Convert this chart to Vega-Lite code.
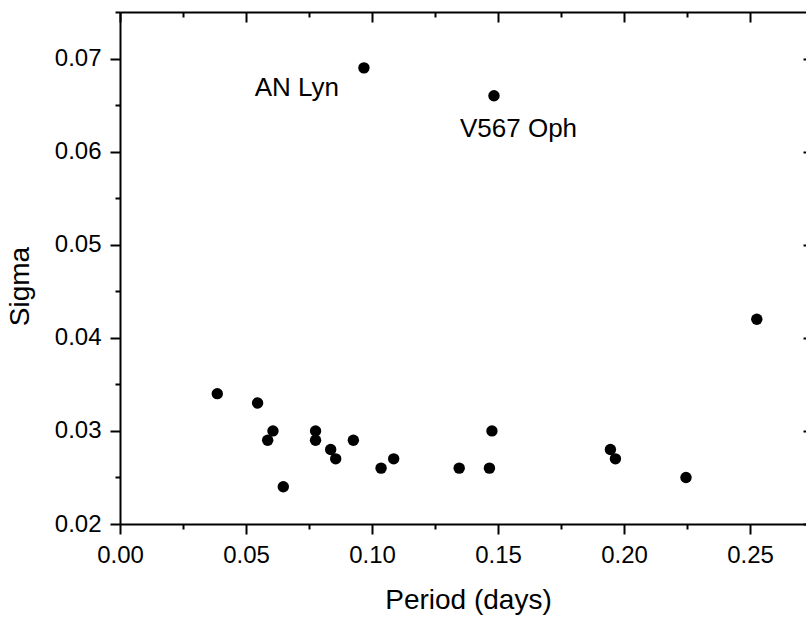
{
  "$schema": "https://vega.github.io/schema/vega-lite/v6.json",
  "width": 686,
  "height": 512,
  "autosize": {"type": "none"},
  "padding": {"left": 120, "top": 12, "right": 0, "bottom": 93},
  "background": "white",
  "config": {"view": {"stroke": null}, "font": "Liberation Sans"},
  "data": {
    "values": [
      {"period": 0.0386, "sigma": 0.034, "label": ""},
      {"period": 0.0546, "sigma": 0.033, "label": ""},
      {"period": 0.0586, "sigma": 0.029, "label": ""},
      {"period": 0.0607, "sigma": 0.030, "label": ""},
      {"period": 0.0648, "sigma": 0.024, "label": ""},
      {"period": 0.0776, "sigma": 0.030, "label": ""},
      {"period": 0.0776, "sigma": 0.029, "label": ""},
      {"period": 0.0836, "sigma": 0.028, "label": ""},
      {"period": 0.0856, "sigma": 0.027, "label": ""},
      {"period": 0.0926, "sigma": 0.029, "label": ""},
      {"period": 0.0968, "sigma": 0.069, "label": "AN Lyn"},
      {"period": 0.1036, "sigma": 0.026, "label": ""},
      {"period": 0.1086, "sigma": 0.027, "label": ""},
      {"period": 0.1346, "sigma": 0.026, "label": ""},
      {"period": 0.1466, "sigma": 0.026, "label": ""},
      {"period": 0.1476, "sigma": 0.030, "label": ""},
      {"period": 0.1484, "sigma": 0.066, "label": "V567 Oph"},
      {"period": 0.1946, "sigma": 0.028, "label": ""},
      {"period": 0.1966, "sigma": 0.027, "label": ""},
      {"period": 0.2246, "sigma": 0.025, "label": ""},
      {"period": 0.2527, "sigma": 0.042, "label": ""}
    ]
  },
  "layer": [
    {
      "mark": {"type": "point", "filled": true, "shape": "circle", "size": 130, "color": "black", "opacity": 1},
      "encoding": {
        "x": {
          "field": "period", "type": "quantitative",
          "scale": {"domain": [0, 0.27222], "nice": false, "zero": false},
          "axis": {
            "orient": "bottom",
            "values": [0, 0.025, 0.05, 0.075, 0.1, 0.125, 0.15, 0.175, 0.2, 0.225, 0.25],
            "labelExpr": "round(datum.value*1000) % 50 == 0 ? format(datum.value, '.2f') : ''",
            "tickSize": {"condition": {"test": "round(datum.value*1000) % 50 != 0", "value": 5}, "value": 10},
            "tickWidth": 2, "tickColor": "black",
            "domainColor": "black", "domainWidth": 2,
            "grid": false,
            "labelFontSize": 24, "labelColor": "black", "labelPadding": 9,
            "labelFlush": false, "labelOverlap": false,
            "title": "Period (days)", "titleFontSize": 28, "titleFontWeight": "normal", "titleColor": "black",
            "titleX": 348, "titleY": 84, "titleBaseline": "alphabetic", "titleAlign": "center", "titleAnchor": null
          }
        },
        "y": {
          "field": "sigma", "type": "quantitative",
          "scale": {"domain": [0.02, 0.075], "nice": false, "zero": false},
          "axis": {
            "orient": "left",
            "values": [0.02, 0.025, 0.03, 0.035, 0.04, 0.045, 0.05, 0.055, 0.06, 0.065, 0.07, 0.075],
            "labelExpr": "round(datum.value*1000) % 10 == 0 ? format(datum.value, '.2f') : ''",
            "tickSize": {"condition": {"test": "round(datum.value*1000) % 10 != 0", "value": 5}, "value": 10},
            "tickWidth": 2, "tickColor": "black",
            "domainColor": "black", "domainWidth": 2,
            "grid": false,
            "labelFontSize": 24, "labelColor": "black", "labelPadding": 9,
            "labelFlush": false, "labelOverlap": false,
            "title": "Sigma", "titleFontSize": 28, "titleFontWeight": "normal", "titleColor": "black",
            "titleX": -92, "titleY": 274, "titleAngle": -90, "titleBaseline": "alphabetic", "titleAlign": "center", "titleAnchor": null
          }
        }
      }
    },
    {
      "transform": [{"filter": "datum.label == 'AN Lyn'"}],
      "mark": {"type": "text", "align": "right", "baseline": "alphabetic", "dx": -25, "dy": 28, "fontSize": 26, "font": "Liberation Sans", "color": "black"},
      "encoding": {
        "x": {
          "field": "period", "type": "quantitative",
          "axis": {
            "orient": "top",
            "values": [0, 0.025, 0.05, 0.075, 0.1, 0.125, 0.15, 0.175, 0.2, 0.225, 0.25],
            "labels": false,
            "tickSize": {"condition": {"test": "round(datum.value*1000) % 50 != 0", "value": -5}, "value": -10},
            "tickWidth": 2, "tickColor": "black",
            "domainColor": "black", "domainWidth": 2,
            "grid": false, "title": null
          }
        },
        "y": {
          "field": "sigma", "type": "quantitative",
          "axis": {
            "orient": "right", "offset": 7,
            "values": [0.02, 0.025, 0.03, 0.035, 0.04, 0.045, 0.05, 0.055, 0.06, 0.065, 0.07, 0.075],
            "labels": false,
            "tickSize": {"condition": {"test": "round(datum.value*1000) % 10 != 0", "value": -5}, "value": -10},
            "tickWidth": 2, "tickColor": "black",
            "domainColor": "black", "domainWidth": 2,
            "grid": false, "title": null
          }
        },
        "text": {"field": "label"}
      }
    },
    {
      "transform": [{"filter": "datum.label == 'V567 Oph'"}],
      "mark": {"type": "text", "align": "left", "baseline": "alphabetic", "dx": -34, "dy": 41, "fontSize": 26, "font": "Liberation Sans", "color": "black"},
      "encoding": {
        "x": {"field": "period", "type": "quantitative", "axis": null},
        "y": {"field": "sigma", "type": "quantitative", "axis": null},
        "text": {"field": "label"}
      }
    }
  ],
  "resolve": {"axis": {"x": "independent", "y": "independent"}}
}
